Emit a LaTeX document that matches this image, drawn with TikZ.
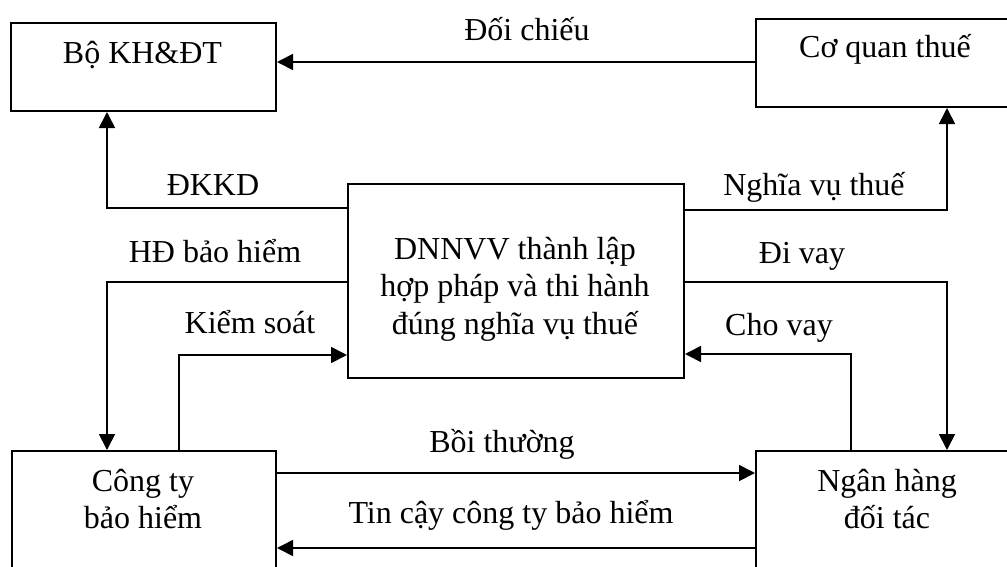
\documentclass[tikz,border=0pt]{standalone}
\usepackage{fontspec}
\setmainfont{Liberation Serif}
\usetikzlibrary{arrows.meta,calc}
\begin{document}
\begin{tikzpicture}[x=1pt,y=-1pt,
  box/.style={draw,line width=2pt,rectangle,anchor=north west,inner sep=0pt},
  txt/.style={font=\fontsize{32}{37.5}\selectfont,inner sep=0pt,align=center},
  lbl/.style={font=\fontsize{32}{37.5}\selectfont,inner sep=0pt,anchor=base},
  conn/.style={line width=1.7pt},
  arr/.style={conn,-{Triangle[length=16pt,width=16pt]}}]
\useasboundingbox (0,0) rectangle (1007,566);
\clip (0,0) rectangle (1007,566);

% boxes
\node[box,minimum width=265pt,minimum height=88pt] (bo) at (10,22) {};
\node[box,minimum width=260pt,minimum height=88pt] (thue) at (755,18) {};
\node[box,minimum width=336pt,minimum height=194pt] (dn) at (347,183) {};
\node[box,minimum width=264pt,minimum height=150pt] (bh) at (11,450) {};
\node[box,minimum width=260pt,minimum height=150pt] (nh) at (755,450) {};

% box texts
\node[lbl] (tbo) at (142.5,63) {Bộ KH\&ĐT};
\node[lbl] (tthue) at (885,57) {Cơ quan thuế};
\node[txt] (tdn) at (515,289) {DNNVV thành lập\\hợp pháp và thi hành\\đúng nghĩa vụ thuế};
\node[txt] (tbh) at (143,499) {Công ty\\bảo hiểm};
\node[txt] (tnh) at (887,499) {Ngân hàng\\đối tác};

% connectors
\coordinate (c1) at ($(thue.north west)+(0,44)$);
\draw[arr] (c1) -- (c1 -| bo.east);
\draw[arr] ($(dn.north west)+(0,25)$) -| ($(bo.south west)+(97,0)$);
\draw[arr] ($(dn.north east)+(0,27)$) -| ($(thue.south west)+(192,0)$);
\draw[arr] ($(dn.north west)+(0,99)$) -| ($(bh.north west)+(96,0)$);
\draw[arr] ($(bh.north west)+(168,0)$) |- ($(dn.north west)+(0,172)$);
\draw[arr] ($(dn.north east)+(0,99)$) -| ($(nh.north west)+(192,0)$);
\draw[arr] ($(nh.north west)+(96,0)$) |- ($(dn.north east)+(0,171)$);
\coordinate (c8) at ($(bh.north east)+(0,23)$);
\draw[arr] (c8) -- (c8 -| nh.west);
\coordinate (c9) at ($(nh.north west)+(0,98)$);
\draw[arr] (c9) -- (c9 -| bh.east);

% connector labels
\node[lbl] (l1) at (527,40) {Đối chiếu};
\node[lbl] (l2) at (213,195) {ĐKKD};
\node[lbl] (l3) at (814,195) {Nghĩa vụ thuế};
\node[lbl] (l4) at (215,262) {HĐ bảo hiểm};
\node[lbl] (l5) at (250,333) {Kiểm soát};
\node[lbl] (l6) at (802,263) {Đi vay};
\node[lbl] (l7) at (779,335) {Cho vay};
\node[lbl] (l8) at (502,452) {Bồi thường};
\node[lbl] (l9) at (511,523) {Tin cậy công ty bảo hiểm};
\end{tikzpicture}
\end{document}
